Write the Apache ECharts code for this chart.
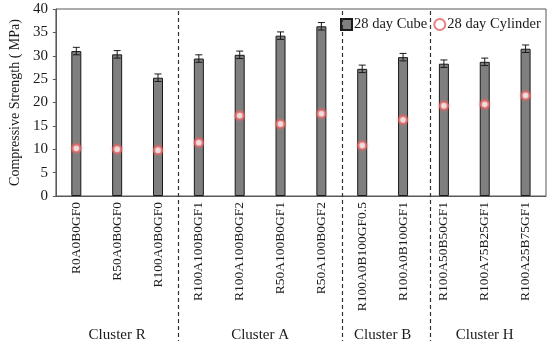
<!DOCTYPE html>
<html><head><meta charset="utf-8">
<script src="https://cdn.jsdelivr.net/npm/echarts@6/dist/echarts.min.js"></script>
<style>html,body{margin:0;padding:0;background:#fff}#c{width:550px;height:349px}</style>
</head><body><div id="c"></div>
<script>
const categories = ['R0A0B0GF0','R50A0B0GF0','R100A0B0GF0','R100A100B0GF1','R100A100B0GF2','R50A100B0GF1','R50A100B0GF2','R100A0B100GF0.5','R100A0B100GF1','R100A50B50GF1','R100A75B25GF1','R100A25B75GF1'];
const cube = [31.0, 30.3, 25.3, 29.4, 30.2, 34.3, 36.3, 27.2, 29.7, 28.3, 28.7, 31.5];
const cubeErr = [0.8, 0.8, 0.8, 0.8, 0.8, 0.8, 0.8, 0.8, 0.8, 0.8, 0.8, 0.8];
const cylinder = [10.2, 10.0, 9.8, 11.4, 17.2, 15.4, 17.6, 10.8, 16.3, 19.3, 19.6, 21.5];
const clusters = ['Cluster R','Cluster A','Cluster B','Cluster H'];
const clusterRanges = [[0,2],[3,6],[7,8],[9,11]];
const separators = [2.5, 6.5, 8.67];
const yMin = 0, yMax = 40, yStep = 5;

const FONT = 'Liberation Serif';
const TXT = '#1a1a1a';
const chart = echarts.init(document.getElementById('c'), null, {renderer:'canvas'});
chart.setOption({
  animation:false,
  textStyle:{fontFamily:FONT,color:TXT},
  grid:{left:47,right:4,top:9,bottom:153,show:true,borderColor:'#595959',borderWidth:1},
  legend:{
    orient:'horizontal', left:340, top:17, width:215, padding:0,
    itemWidth:11, itemHeight:11, itemGap:6,
    textStyle:{fontFamily:FONT,fontSize:14.5,color:TXT,padding:[0,0,0,-3]},
    data:[{name:'28 day Cube',icon:'rect'},{name:'28 day Cylinder',icon:'circle',itemStyle:{color:'#fff',borderColor:'#e06060',borderWidth:2}}]
  },
  xAxis:{
    type:'category', data:categories,
    axisLine:{lineStyle:{color:'#595959'}},
    axisTick:{show:false},
    axisLabel:{rotate:90,fontSize:13.5,color:TXT,fontFamily:FONT,margin:6,interval:0}
  },
  yAxis:{
    type:'value', min:yMin, max:yMax, interval:yStep,
    name:'Compressive Strength ( MPa)', nameLocation:'middle', nameGap:33,
    nameTextStyle:{fontSize:14,color:TXT,fontFamily:FONT},
    axisLine:{show:true,lineStyle:{color:'#595959'}},
    axisTick:{show:true,length:3,lineStyle:{color:'#595959'}},
    splitLine:{show:false},
    axisLabel:{fontSize:15,color:TXT,fontFamily:FONT,margin:8}
  },
  series:[
    {name:'28 day Cube',type:'bar',data:cube,barWidth:10,
     itemStyle:{color:'#7f7f7f',borderColor:'#1a1a1a',borderWidth:1}},
    {name:'err',type:'custom',z:5,
     data:cube.map((v,i)=>[i,v,cubeErr[i]]),
     renderItem:function(params,api){
       const i=api.value(0),v=api.value(1),e=api.value(2);
       const hi=api.coord([i,v+e]),lo=api.coord([i,v-e]);
       const hw=3.5;
       const st={stroke:'#1a1a1a',lineWidth:1};
       return {type:'group',children:[
         {type:'line',shape:{x1:hi[0],y1:hi[1],x2:lo[0],y2:lo[1]},style:st},
         {type:'line',shape:{x1:hi[0]-hw,y1:hi[1],x2:hi[0]+hw,y2:hi[1]},style:st},
         {type:'line',shape:{x1:lo[0]-hw,y1:lo[1],x2:lo[0]+hw,y2:lo[1]},style:st}
       ]};
     }},
    {name:'28 day Cylinder',type:'scatter',data:cylinder,symbol:'circle',symbolSize:8,z:6,
     itemStyle:{color:'#fff',borderColor:'#e06060',borderWidth:2.2,shadowBlur:3,shadowColor:'rgba(230,120,120,0.5)'}}
  ]
});

function place(){
  const x0=chart.convertToPixel({xAxisIndex:0},0);
  const x1=chart.convertToPixel({xAxisIndex:0},1);
  const step=x1-x0;
  const yTop=chart.convertToPixel({yAxisIndex:0},yMax);
  const g=[];
  separators.forEach(s=>{
    const x=Math.round(x0+s*step)+0.5;
    g.push({type:'line',shape:{x1:x,y1:yTop+2,x2:x,y2:341},style:{stroke:'#333',lineWidth:1.2,lineDash:[4,3]},z:10});
  });
  clusters.forEach((c,k)=>{
    const r=clusterRanges[k];
    const cx=x0+(r[0]+r[1])/2*step;
    g.push({type:'text',x:cx,y:335,style:{text:c,fontFamily:FONT,fontSize:15,fill:TXT,align:'center',verticalAlign:'middle'},z:10});
  });
  chart.setOption({graphic:g});
}
place();
</script></body></html>
